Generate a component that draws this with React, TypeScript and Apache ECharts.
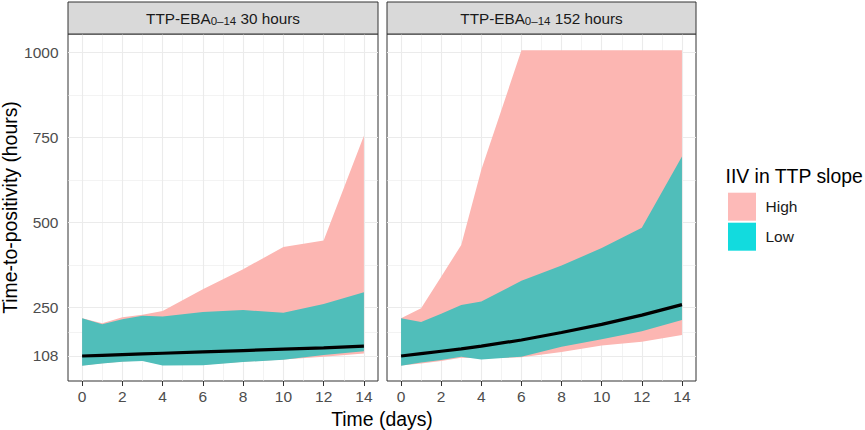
import React, { useEffect, useRef } from "react";
import * as echarts from "echarts";

// ---- data ----
const days = [0, 1, 2, 3, 4, 6, 8, 10, 12, 14];

// Panel 1: TTP-EBA 0-14 30 hours
const high30Upper = [219, 204, 222, 229, 240, 304, 363, 428, 447, 755];
const high30Lower = [80, 87, 92, 95, 82, 82, 91, 98, 106, 115];
const low30Upper = [219, 201, 216, 226, 224, 237, 243, 235, 261, 295];
const low30Lower = [79, 86, 91, 93, 80, 81, 90, 97, 111, 122];
const median30 = [108, 110, 112, 114, 116, 120, 124, 128, 132, 137];

// Panel 2: TTP-EBA 0-14 152 hours
const high152Upper = [219, 248, 341, 434, 655, 1006, 1006, 1006, 1006, 1006];
const high152Lower = [80, 86, 93, 103, 101, 104, 120, 139, 150, 170];
const low152Upper = [219, 208, 232, 258, 268, 329, 374, 425, 485, 694];
const low152Lower = [79, 89, 96, 106, 98, 106, 135, 157, 181, 214];
const median152 = [108, 115, 122, 129, 137, 155, 177, 201, 228, 259];

const xTicks = [0, 2, 4, 6, 8, 10, 12, 14];
const xMinorTicks = [1, 3, 5, 7, 9, 11, 13];
const yTicks = [108, 250, 500, 750, 1000];
const yMinorTicks = [179, 375, 625, 875];

const panelHours = ["30 hours", "152 hours"];
const groupNames = ["High", "Low"];
const legendTitle = "IIV in TTP slope";
const xTitle = "Time (days)";
const yTitle = "Time-to-positivity (hours)";

// ---- styling ----
const FONT = "'Liberation Sans', Arial, Helvetica, sans-serif";
const PINK = "#FCB6B2";
const TEAL = "#50BEBA";
const KEY_HIGH = "#FDBAB8";
const KEY_LOW = "#12DBDE";
const GRID_COLOR = "#EBEBEB";

function bandRenderItem(color: string) {
  return (params: any, api: any) => {
    if (params.dataIndexInside !== 0) return null;
    const n = params.dataInsideLength;
    const top: number[][] = [];
    const bottom: number[][] = [];
    for (let k = 0; k < n; k++) {
      const x = api.value(0, k);
      bottom.push(api.coord([x, api.value(1, k)]));
      top.push(api.coord([x, api.value(2, k)]));
    }
    const points = bottom.concat(top.reverse());
    return {
      type: "polygon",
      shape: { points },
      style: { fill: color, stroke: null, lineWidth: 0 },
      silent: true,
    };
  };
}

export default function App() {
  const ref = useRef<HTMLDivElement>(null);

  useEffect(() => {
    if (!ref.current) return;
    const chart = echarts.init(ref.current, null, { renderer: "svg" });

    const panels = [
      { hu: high30Upper, hl: high30Lower, lu: low30Upper, ll: low30Lower, med: median30 },
      { hu: high152Upper, hl: high152Lower, lu: low152Upper, ll: low152Lower, med: median152 },
    ];
    const layout = [
      { left: 68, top: 34, width: 310, height: 347 },
      { left: 387, top: 34, width: 309, height: 347 },
    ];

    const pair = (arr: number[]) => days.map((d, k) => [d, arr[k]]);
    const band = (l: number[], u: number[]) => days.map((d, k) => [d, l[k], u[k]]);

    const series: any[] = [];
    panels.forEach((p, i) => {
      const gl: any[] = [];
      xMinorTicks.forEach((v) => gl.push({ xAxis: v, lineStyle: { color: GRID_COLOR, width: 0.6, type: "solid" } }));
      yMinorTicks.forEach((v) => gl.push({ yAxis: v, lineStyle: { color: GRID_COLOR, width: 0.6, type: "solid" } }));
      xTicks.forEach((v) => gl.push({ xAxis: v, lineStyle: { color: GRID_COLOR, width: 1.1, type: "solid" } }));
      yTicks.forEach((v) => gl.push({ yAxis: v, lineStyle: { color: GRID_COLOR, width: 1.1, type: "solid" } }));
      series.push({
        type: "line",
        name: "grid" + i,
        xAxisIndex: i,
        yAxisIndex: i,
        data: [],
        z: 1,
        silent: true,
        markLine: {
          z: 1,
          silent: true,
          symbol: ["none", "none"],
          label: { show: false },
          emphasis: { disabled: true },
          data: gl,
        },
      });
      series.push({
        type: "custom",
        name: groupNames[0],
        xAxisIndex: i,
        yAxisIndex: i,
        data: band(p.hl, p.hu),
        encode: { x: 0, y: [1, 2] },
        itemStyle: { color: PINK },
        renderItem: bandRenderItem(PINK),
        silent: true,
        z: 2,
      });
      series.push({
        type: "custom",
        name: groupNames[1],
        xAxisIndex: i,
        yAxisIndex: i,
        data: band(p.ll, p.lu),
        encode: { x: 0, y: [1, 2] },
        itemStyle: { color: TEAL },
        renderItem: bandRenderItem(TEAL),
        silent: true,
        z: 3,
      });
      series.push({
        type: "line",
        name: "median" + i,
        xAxisIndex: i,
        yAxisIndex: i,
        data: pair(p.med),
        symbol: "none",
        lineStyle: { color: "#000000", width: 3.2 },
        silent: true,
        z: 4,
      });
    });

    const graphic: any[] = [];
    layout.forEach((g, i) => {
      graphic.push({
        type: "rect",
        shape: { x: g.left, y: 2, width: g.width, height: g.top - 2 },
        style: { fill: "#D9D9D9", stroke: "#333333", lineWidth: 1 },
        z: 10,
      });
      graphic.push({
        type: "text",
        x: g.left + g.width / 2,
        y: 18.1,
        z: 11,
        style: {
          text: "{a|TTP-EBA}{s|0\u201314}{a| " + panelHours[i] + "}",
          align: "center",
          verticalAlign: "middle",
          fill: "#1A1A1A",
          rich: {
            a: { fontSize: 15.3, fontFamily: FONT, fill: "#1A1A1A", lineHeight: 18 },
            s: { fontSize: 11.5, fontFamily: FONT, fill: "#1A1A1A", lineHeight: 10, verticalAlign: "bottom" },
          },
        },
      });
    });
    graphic.push({
      type: "text",
      x: 9.5,
      y: 207.5,
      rotation: Math.PI / 2,
      style: { text: yTitle, fontSize: 19.4, fontFamily: FONT, fill: "#000000", align: "center", verticalAlign: "middle" },
    });
    graphic.push({
      type: "text",
      x: 382,
      y: 418.5,
      style: { text: xTitle, fontSize: 19.4, fontFamily: FONT, fill: "#000000", align: "center", verticalAlign: "middle" },
    });
    graphic.push({
      type: "text",
      x: 725.5,
      y: 176.3,
      style: { text: legendTitle, fontSize: 19.4, fontFamily: FONT, fill: "#000000", align: "left", verticalAlign: "middle" },
    });

    const option: any = {
      animation: false,
      backgroundColor: "#FFFFFF",
      grid: layout.map((g) => ({
        ...g,
        show: true,
        backgroundColor: "#FFFFFF",
        borderColor: "#333333",
        borderWidth: 1,
        containLabel: false,
      })),
      xAxis: layout.map((_, i) => ({
        type: "value",
        gridIndex: i,
        min: -0.7,
        max: 14.7,
        splitLine: { show: false },
        axisLine: { show: false },
        axisTick: {
          show: true,
          length: 5,
          lineStyle: { color: "#333333", width: 1 },
          customValues: xTicks,
        },
        axisLabel: {
          show: true,
          customValues: xTicks,
          formatter: (v: number) => String(v),
          fontSize: 15.5,
          fontFamily: FONT,
          color: "#4D4D4D",
          margin: 7,
        },
      })),
      yAxis: layout.map((_, i) => ({
        type: "value",
        gridIndex: i,
        min: 34.5,
        max: 1054,
        splitLine: { show: false },
        axisLine: { show: false },
        axisTick: {
          show: i === 0,
          length: 5,
          lineStyle: { color: "#333333", width: 1 },
          customValues: yTicks,
        },
        axisLabel: {
          show: i === 0,
          customValues: yTicks,
          formatter: (v: number) => String(v),
          fontSize: 15.5,
          fontFamily: FONT,
          color: "#4D4D4D",
          margin: 9.5,
        },
      })),
      legend: {
        show: true,
        orient: "vertical",
        left: 728,
        top: 192.7,
        padding: 0,
        itemWidth: 28,
        itemHeight: 28,
        itemGap: 2,
        icon: "rect",
        selectedMode: false,
        textStyle: { fontSize: 15.5, fontFamily: FONT, color: "#1A1A1A", padding: [0, 0, 0, 4.5] },
        data: [
          { name: groupNames[0], icon: "rect", itemStyle: { color: KEY_HIGH, borderWidth: 0 } },
          { name: groupNames[1], icon: "rect", itemStyle: { color: KEY_LOW, borderWidth: 0 } },
        ],
      },
      graphic,
      series,
    };

    chart.setOption(option);
    return () => {
      chart.dispose();
    };
  }, []);

  return (
    <div
      ref={ref}
      style={{ position: "fixed", left: 0, top: 0, width: 865, height: 430, background: "#FFFFFF" }}
    />
  );
}
